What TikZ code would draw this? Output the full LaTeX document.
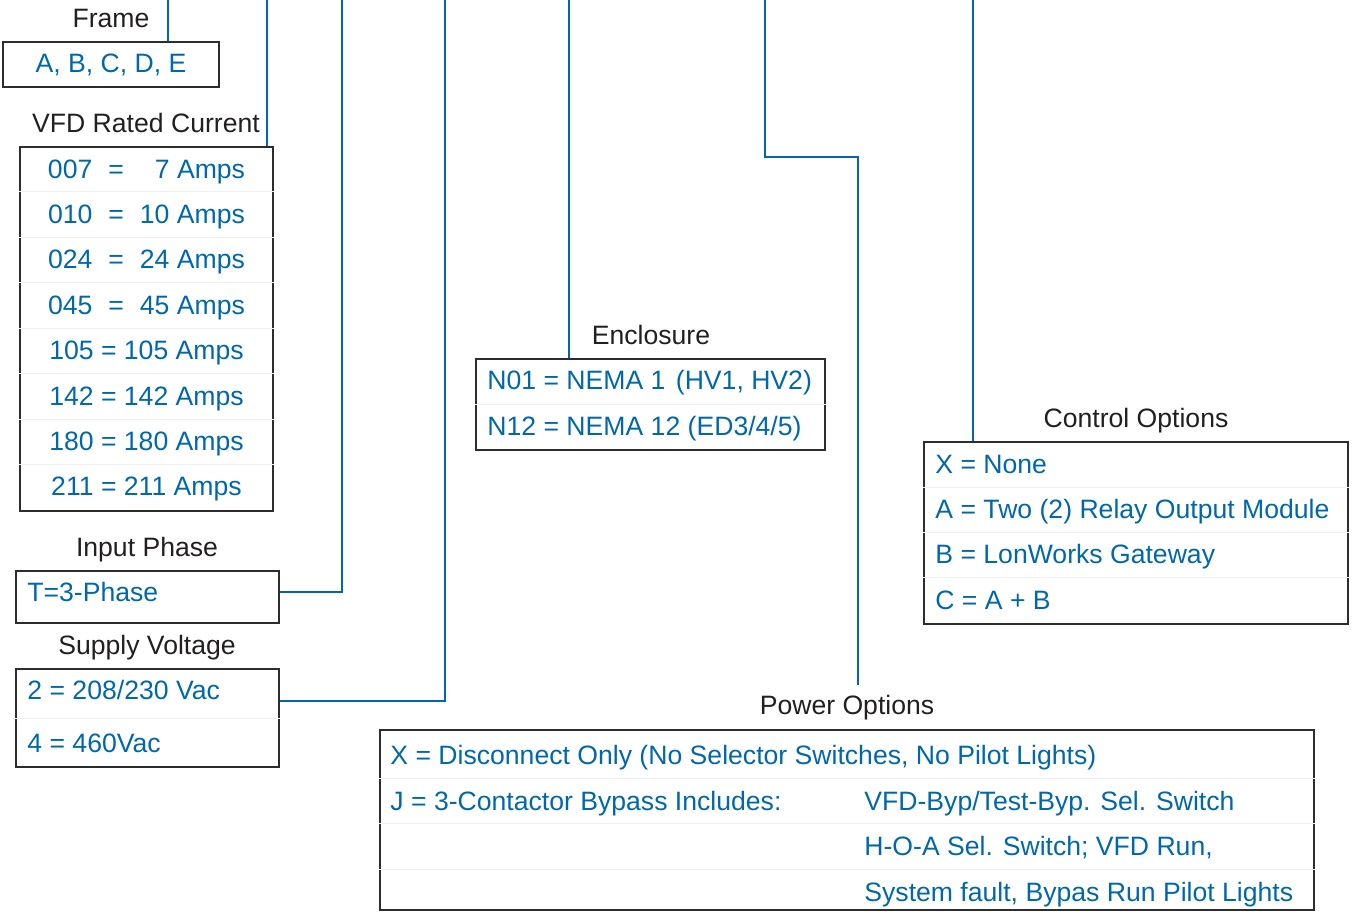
\documentclass[tikz,border=0pt]{standalone}
\usepackage{fontspec}
\setmainfont{Liberation Sans}
\definecolor{optblue}{RGB}{0,104,170}
\definecolor{labelgray}{RGB}{35,31,32}
\definecolor{boxgray}{RGB}{45,45,45}
\tikzset{
  box/.style={draw=boxgray, line width=1.25pt, inner sep=0pt},
  wire/.style={draw=optblue, line width=1.3pt},
  sep/.style={draw=black!6, line width=0.4pt},
  title/.style={text=labelgray, inner sep=0pt, text height=9.5pt, text depth=0pt},
  opt/.style={text=optblue, inner sep=0pt, text height=9.5pt, text depth=0pt},
}
\begin{document}
\begin{tikzpicture}[x=0.5pt, y=-0.5pt, every node/.style={font=\fontsize{13.3}{16}\selectfont}]
        \useasboundingbox (0,0) rectangle (1354,911);

        % frame
        \node[box, minimum width=108pt, minimum height=22.5pt] (frame) at (111,64.5) {};
        \node[title] (frametitle) at (111,18) {Frame};
        \node[opt] (frameopt) at (111,63) {A, B, C, D, E};

        % rated current
        \node[box, minimum width=126.5pt, minimum height=182pt] (cur) at (146.5,329) {};
        \node[title] (curtitle) at (146,123) {VFD Rated Current};
        \draw[sep] (cur.west |- 0,191) -- (cur.east |- 0,191);
        \draw[sep] (cur.west |- 0,237) -- (cur.east |- 0,237);
        \draw[sep] (cur.west |- 0,282) -- (cur.east |- 0,282);
        \draw[sep] (cur.west |- 0,328) -- (cur.east |- 0,328);
        \draw[sep] (cur.west |- 0,373) -- (cur.east |- 0,373);
        \draw[sep] (cur.west |- 0,419) -- (cur.east |- 0,419);
        \draw[sep] (cur.west |- 0,464) -- (cur.east |- 0,464);
        \node[opt] (cur1) at (146.5,169) {007\hspace{4.3pt} =\hspace{11.8pt} 7 Amps};
        \node[opt] (cur2) at (146.5,214) {010\hspace{4.3pt} =\hspace{4.3pt} 10 Amps};
        \node[opt] (cur3) at (146.5,259) {024\hspace{4.3pt} =\hspace{4.3pt} 24 Amps};
        \node[opt] (cur4) at (146.5,305) {045\hspace{4.3pt} =\hspace{4.3pt} 45 Amps};
        \node[opt] (cur5) at (146.5,350) {105 = 105 Amps};
        \node[opt] (cur6) at (146.5,396) {142 = 142 Amps};
        \node[opt] (cur7) at (146.5,441) {180 = 180 Amps};
        \node[opt] (cur8) at (146.5,486) {211 = 211 Amps};

        % input phase
        \node[box, minimum width=131.5pt, minimum height=26pt] (phase) at (147.5,597) {};
        \node[title] (phasetitle) at (147,547) {Input Phase};
        \node[opt, anchor=west] (phase1) at (27,592) {T=3-Phase};

        % supply voltage
        \node[box, minimum width=131.5pt, minimum height=49pt] (volt) at (147.5,718) {};
        \node[title] (volttitle) at (147,645) {Supply Voltage};
        \draw[sep] (volt.west) -- (volt.east);
        \node[opt, anchor=west] (volt1) at (27,690) {2 = 208/230 Vac};
        \node[opt, anchor=west] (volt2) at (27,743) {4 = 460Vac};

        % enclosure
        \node[box, minimum width=174.5pt, minimum height=45.5pt] (encl) at (650.5,404.5) {};
        \node[title] (encltitle) at (651,335) {Enclosure};
        \draw[sep] (encl.west) -- (encl.east);
        \node[opt, anchor=west] (encl1) at (487,380) {N01 = NEMA 1\hspace{1.5pt} (HV1, HV2)};
        \node[opt, anchor=west] (encl2) at (487,426) {N12 = NEMA 12 (ED3/4/5)};

        % control options
        \node[box, minimum width=212pt, minimum height=91pt] (ctrl) at (1136,533) {};
        \node[title] (ctrltitle) at (1136,418) {Control Options};
        \draw[sep] (ctrl.west |- 0,487) -- (ctrl.east |- 0,487);
        \draw[sep] (ctrl.west |- 0,532) -- (ctrl.east |- 0,532);
        \draw[sep] (ctrl.west |- 0,577) -- (ctrl.east |- 0,577);
        \node[opt, anchor=west] (ctrl1) at (935,464) {X = None};
        \node[opt, anchor=west] (ctrl2) at (935,509) {A = Two (2) Relay Output Module};
        \node[opt, anchor=west] (ctrl3) at (935,554) {B = LonWorks Gateway};
        \node[opt, anchor=west] (ctrl4) at (935,600) {C = A + B};

        % power options
        \node[box, minimum width=467pt, minimum height=90pt] (power) at (847,820) {};
        \node[title] (powertitle) at (847,705) {Power Options};
        \draw[sep] (power.west |- 0,778) -- (power.east |- 0,778);
        \draw[sep] (power.west |- 0,823) -- (power.east |- 0,823);
        \draw[sep] (power.west |- 0,869) -- (power.east |- 0,869);
        \node[opt, anchor=west] (power1) at (390,755) {X = Disconnect Only (No Selector Switches, No Pilot Lights)};
        \node[opt, anchor=west] (power2) at (390,801) {J = 3-Contactor Bypass Includes:};
        \node[opt, anchor=west] (power3) at (864,801) {VFD-Byp/Test-Byp. Sel. Switch};
        \node[opt, anchor=west] (power4) at (864,846) {H-O-A Sel. Switch; VFD Run,};
        \node[opt, anchor=west] (power5) at (864,892) {System fault, Bypas Run Pilot Lights};

        % connectors
        \coordinate (fr0) at (168,0);
        \coordinate (cu0) at (267,0);
        \coordinate (ph0) at (342,0);
        \coordinate (vo0) at (445,0);
        \coordinate (en0) at (569,0);
        \coordinate (pw0) at (765,0);
        \coordinate (pwbend) at (858,157);
        \coordinate (pwend) at (858,685);
        \coordinate (ct0) at (973,0);
        \draw[wire] (frame.north -| fr0) -- (fr0);
        \draw[wire] (cur.north -| cu0) -- (cu0);
        \draw[wire] ([yshift=2.5pt]phase.east) -| (ph0);
        \draw[wire] ([yshift=8.5pt]volt.east) -| (vo0);
        \draw[wire] (encl.north -| en0) -- (en0);
        \draw[wire] (pw0) |- (pwbend) -- (pwend);
        \draw[wire] (ctrl.north -| ct0) -- (ct0);
    \end{tikzpicture}
\end{document}
